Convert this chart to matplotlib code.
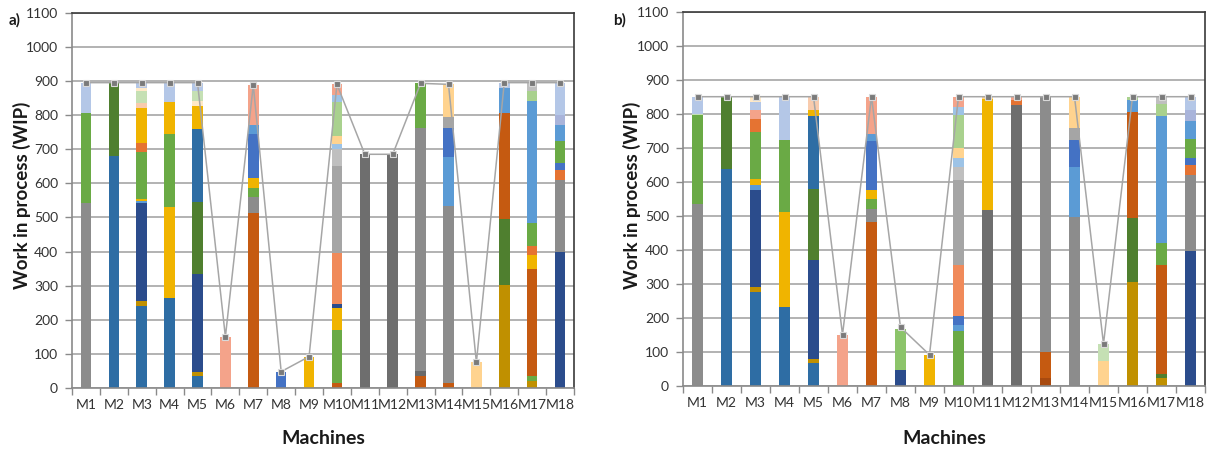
import matplotlib
matplotlib.use("Agg")
import matplotlib.pyplot as plt
from matplotlib.ticker import FixedLocator

plt.rcParams['font.family'] = ['Lato', 'DejaVu Sans']

machines = [f"M{i}" for i in range(1, 19)]

# colour of each job/product in the stacks
COLORS = {
    'gray': '#8C8C8C', 'gray2': '#6A6A6A', 'dkgray': '#6E6E6E',
    'ltgray': '#A5A5A5', 'ltgray2': '#BFBFBF',
    'steel': '#2E6DA4', 'navy': '#2B4C8C', 'blue': '#4472C4',
    'skyblue': '#5B9BD5', 'skyblue2': '#9DC3E6', 'ltblue': '#B4C7E7',
    'lavender': '#A9B4DA',
    'green': '#6AAA45', 'dkgreen': '#4F7F2F', 'ltgreen': '#C5E0B4',
    'ltgreen2': '#A9D18E', 'ltgreen3': '#8CC46A',
    'gold': '#F0B400', 'olive': '#C09000',
    'rust': '#C55A11', 'rust2': '#A84A10', 'orange': '#E57332',
    'coral': '#F08A5A', 'salmon': '#F4A38A', 'peach': '#F8CBAD',
    'ltorange': '#FFD38F', 'cream': '#FFE9C7',
}

# a) stacks: (cumulative top, job colour)
stacks_a = [
    [(541, 'gray'), (805, 'green'), (895, 'ltblue')],
    [(680, 'steel'), (895, 'dkgreen')],
    [(240, 'steel'), (254, 'olive'), (541, 'navy'), (549, 'skyblue'), (555, 'gold'),
     (692, 'green'), (719, 'orange'), (822, 'gold'), (835, 'peach'), (870, 'ltgreen'),
     (880, 'cream'), (895, 'ltblue')],
    [(264, 'steel'), (530, 'gold'), (744, 'green'), (838, 'gold'), (895, 'ltblue')],
    [(35, 'steel'), (48, 'olive'), (335, 'navy'), (545, 'dkgreen'), (760, 'steel'),
     (827, 'gold'), (840, 'cream'), (870, 'ltgreen'), (895, 'ltblue')],
    [(150, 'salmon')],
    [(512, 'rust'), (560, 'gray'), (585, 'green'), (615, 'gold'), (745, 'blue'),
     (770, 'skyblue'), (888, 'salmon')],
    [(48, 'blue')],
    [(92, 'gold')],
    [(15, 'rust'), (169, 'green'), (235, 'gold'), (245, 'navy'), (396, 'coral'),
     (651, 'ltgray'), (700, 'ltgray2'), (715, 'skyblue2'), (740, 'ltorange'),
     (837, 'ltgreen2'), (860, 'skyblue2'), (890, 'salmon')],
    [(685, 'dkgray')],
    [(685, 'dkgray')],
    [(35, 'rust'), (50, 'gray2'), (763, 'gray'), (893, 'green')],
    [(15, 'rust'), (533, 'gray'), (678, 'skyblue'), (763, 'blue'), (795, 'ltgray'),
     (890, 'ltorange')],
    [(75, 'ltorange')],
    [(303, 'olive'), (496, 'dkgreen'), (807, 'rust'), (880, 'skyblue'), (895, 'ltblue')],
    [(20, 'olive'), (35, 'green'), (349, 'rust'), (391, 'gold'), (415, 'orange'),
     (484, 'green'), (841, 'skyblue'), (870, 'ltgreen2'), (895, 'ltgray2')],
    [(398, 'navy'), (611, 'gray'), (640, 'orange'), (660, 'blue'), (724, 'green'),
     (770, 'skyblue'), (800, 'lavender'), (895, 'ltblue')],
]
total_a = [895, 895, 895, 895, 895, 150, 888, 48, 92, 890, 685, 685, 893, 890, 75, 895, 895, 895]

# b) stacks
stacks_b = [
    [(534, 'gray'), (795, 'green'), (800, 'ltgreen'), (850, 'ltblue')],
    [(638, 'steel'), (850, 'dkgreen')],
    [(276, 'steel'), (290, 'olive'), (577, 'navy'), (590, 'skyblue'), (607, 'gold'),
     (746, 'green'), (785, 'orange'), (810, 'salmon'), (835, 'ltblue'), (850, 'cream')],
    [(232, 'steel'), (511, 'gold'), (724, 'green'), (850, 'ltblue')],
    [(67, 'steel'), (80, 'olive'), (369, 'navy'), (580, 'dkgreen'), (792, 'steel'),
     (812, 'gold'), (850, 'peach')],
    [(150, 'salmon')],
    [(481, 'rust'), (520, 'gray'), (550, 'green'), (576, 'gold'), (721, 'blue'),
     (740, 'skyblue'), (850, 'salmon')],
    [(46, 'navy'), (167, 'ltgreen3')],
    [(91, 'gold')],
    [(160, 'green'), (180, 'skyblue'), (206, 'blue'), (355, 'coral'), (604, 'ltgray'),
     (644, 'ltgray2'), (669, 'skyblue2'), (698, 'ltorange'), (797, 'ltgreen2'),
     (820, 'skyblue2'), (850, 'salmon')],
    [(518, 'dkgray'), (843, 'gold'), (850, 'ltorange')],
    [(826, 'dkgray'), (840, 'orange'), (850, 'salmon')],
    [(23, 'rust2'), (100, 'rust'), (850, 'gray')],
    [(497, 'gray'), (642, 'skyblue'), (723, 'blue'), (757, 'ltgray'), (850, 'ltorange')],
    [(74, 'ltorange'), (123, 'ltgreen')],
    [(305, 'olive'), (494, 'dkgreen'), (806, 'rust'), (840, 'skyblue'), (850, 'ltgreen2')],
    [(22, 'olive'), (35, 'dkgreen'), (354, 'rust'), (420, 'green'), (793, 'skyblue'),
     (830, 'ltgreen2'), (850, 'ltgray2')],
    [(396, 'navy'), (619, 'gray'), (650, 'orange'), (670, 'blue'), (725, 'green'),
     (780, 'skyblue'), (810, 'lavender'), (850, 'ltblue')],
]
total_b = [850, 850, 850, 850, 850, 150, 850, 172, 91, 850, 850, 850, 850, 850, 123, 850, 850, 850]


def draw_panel(ax, stacks, totals):
    x = list(range(len(machines)))
    for i, segs in enumerate(stacks):
        bottom = 0
        for top, key in segs:
            ax.bar(i, top - bottom, bottom=bottom, width=0.38,
                   color=COLORS[key], zorder=2, linewidth=0)
            bottom = top
    ax.plot(x, totals, color='#A6A6A6', lw=1.1, marker='s', ms=5,
            mfc='#7A7A7A', mec='#D9D9D9', mew=0.8, zorder=3)

    ax.set_xlim(-0.5, 17.5)
    ax.set_ylim(0, 1100)
    ax.set_yticks(range(0, 1101, 100))
    ax.yaxis.grid(True, color='#A6A6A6', lw=1.2, zorder=0)
    ax.set_axisbelow(True)

    ax.set_xticks(x)
    ax.set_xticklabels(machines, fontsize=10, color='#333333')
    ax.xaxis.set_minor_locator(FixedLocator([k - 0.5 for k in range(19)]))
    ax.tick_params(axis='x', which='major', length=0, pad=8)
    ax.tick_params(axis='x', which='minor', length=5, color='#8A8A8A', width=1)
    ax.tick_params(axis='y', length=5, color='#8A8A8A', width=1, pad=5,
                   labelsize=10, labelcolor='#333333')

    ax.spines['left'].set_color('#8A8A8A')
    ax.spines['bottom'].set_color('#8A8A8A')
    ax.spines['top'].set_color('#3A3A3A')
    ax.spines['right'].set_color('#3A3A3A')
    for s in ax.spines.values():
        s.set_linewidth(1.2)


fig = plt.figure(figsize=(12.1, 4.51), dpi=100)
ax_a = fig.add_axes([72 / 1210, 63 / 451, 502 / 1210, 375.3 / 451])
ax_b = fig.add_axes([683 / 1210, 65.3 / 451, 522 / 1210, 374 / 451])

draw_panel(ax_a, stacks_a, total_a)
draw_panel(ax_b, stacks_b, total_b)

for xl, xm, tag, xt in [(22, 323, 'a)', 15), (632, 944, 'b)', 620)]:
    fig.text(xl / 1210, 1 - 195 / 451, 'Work in process (WIP)', rotation=90,
             ha='center', va='center', fontsize=13.5, fontweight='bold', color='#1A1A1A')
    fig.text(xm / 1210, 1 - 438 / 451, 'Machines', ha='center', va='center',
             fontsize=14, fontweight='bold', color='#1A1A1A')
    fig.text(xt / 1210, 1 - 20 / 451, tag, ha='center', va='center',
             fontsize=11, fontweight='bold', color='#1A1A1A')

fig.savefig("out.png", dpi=100)
